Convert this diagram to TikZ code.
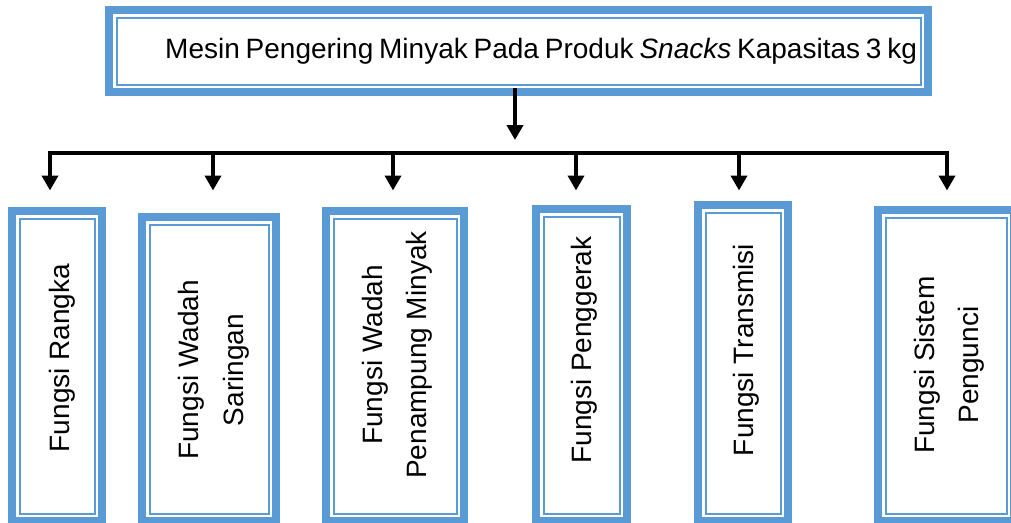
\documentclass[tikz,border=0pt]{standalone}
\usepackage{fontspec}
\setmainfont{Liberation Sans}
\newfontfamily\titlefont[WordSpace=0.75]{Liberation Sans}
\usetikzlibrary{arrows.meta}
\definecolor{frameblue}{RGB}{91,155,213}

\begin{document}
\begin{tikzpicture}[
    x=1pt, y=-1pt,
    block/.style={rectangle, draw=frameblue, line width=2pt, inner sep=0pt,
        outer sep=0pt},
    outerframe/.style={draw=frameblue, line width=8pt},
    vtext/.style={rotate=90, align=center, inner sep=0pt,
        font=\fontsize{28}{44.5}\selectfont},
    busline/.style={line width=4pt, line cap=rect},
    arrow/.style={-{Triangle[width=16pt,length=15pt]}, line width=4pt}
]
    \useasboundingbox (0,0) rectangle (1011,522);

    % boxes
    \node[block, minimum width=804pt, minimum height=67pt] (title) at (518.5,51) {};
    \node[block, minimum width=75pt, minimum height=295pt] (rangka) at (57,366) {};
    \node[block, minimum width=119pt, minimum height=289pt] (saringan) at (209,369) {};
    \node[block, minimum width=123pt, minimum height=295pt] (penampung) at (395,366) {};
    \node[block, minimum width=76pt, minimum height=297pt] (penggerak) at (581.5,365) {};
    \node[block, minimum width=75pt, minimum height=301pt] (transmisi) at (743,363) {};
    \node[block, minimum width=121pt, minimum height=296pt] (pengunci) at (946,365.5) {};

    \foreach \n in {title,rangka,saringan,penampung,penggerak,transmisi,pengunci}
        \draw[outerframe] ([shift={(-7.5pt,7.5pt)}]\n.north west)
            rectangle ([shift={(7.5pt,-7.5pt)}]\n.south east);

    % texts
    \node[anchor=base west, inner sep=0pt, font=\titlefont\fontsize{28}{34}\selectfont]
        (title-txt) at (165,58.5)
        {Mesin Pengering Minyak Pada Produk \textit{Snacks} Kapasitas 3 kg};
    \node[vtext] (rangka-txt) at (62.5,358) {Fungsi Rangka};
    \node[vtext] (saringan-txt) at (214,370) {Fungsi Wadah\\Saringan};
    \node[vtext] (penampung-txt) at (397.5,355) {Fungsi Wadah\\Penampung Minyak};
    \node[vtext] (penggerak-txt) at (584,350) {Fungsi Penggerak};
    \node[vtext] (transmisi-txt) at (746,350) {Fungsi Transmisi};
    \node[vtext] (pengunci-txt) at (949,365) {Fungsi Sistem\\Pengunci};

    % connectors
    \coordinate (hub) at (515,140);
    \coordinate (bar) at (515,152.5);
    \foreach \x [count=\i] in {50,213,393,576,739,947}
        \coordinate (tip\i) at (\x,190.5);

    \draw[arrow] (title.south -| hub) ++(0,3.5) -- (hub);
    \draw[busline] (tip1 |- bar) -- (tip6 |- bar);
    \foreach \i in {1,...,6}
        \draw[arrow] (tip\i |- bar) -- (tip\i);
\end{tikzpicture}
\end{document}
